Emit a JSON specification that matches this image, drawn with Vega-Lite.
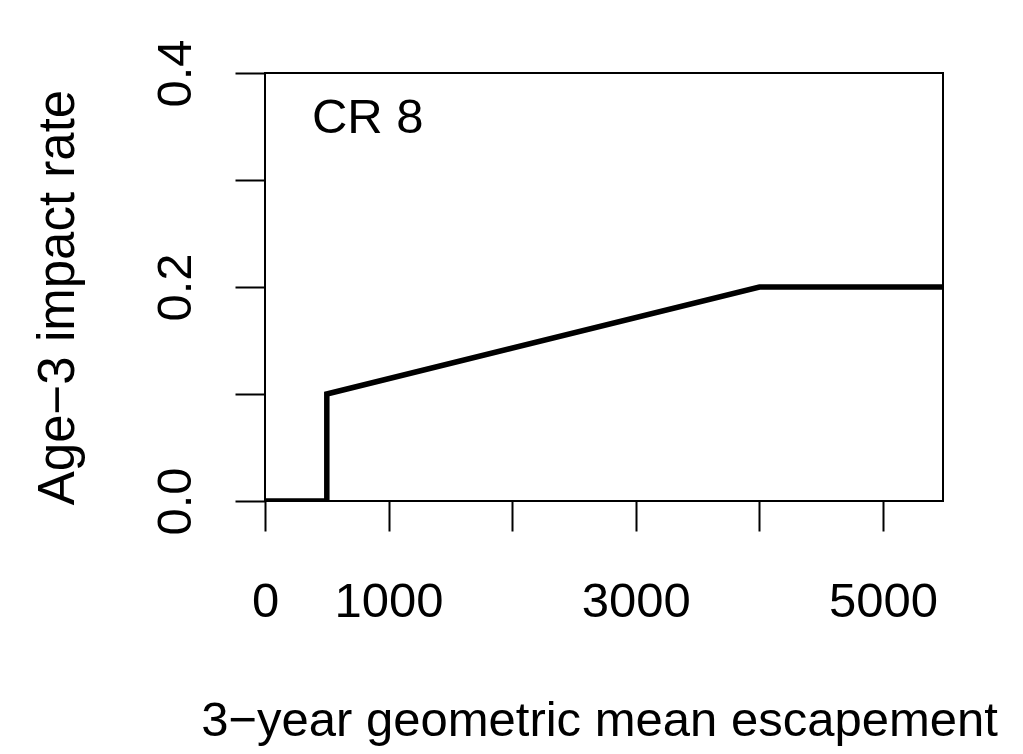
{
  "$schema": "https://vega.github.io/schema/vega-lite/v6.json",
  "width": 678,
  "height": 428,
  "autosize": "none",
  "padding": {"left": 265, "top": 73, "right": 80, "bottom": 253},
  "background": "white",
  "config": {
    "font": "Liberation Sans",
    "view": {"stroke": "black", "strokeWidth": 2},
    "axis": {
      "domain": false,
      "grid": false,
      "ticks": true,
      "tickColor": "black",
      "tickWidth": 2,
      "tickSize": 30,
      "labelFont": "Liberation Sans",
      "labelFontSize": 49,
      "labelColor": "black",
      "labelFlush": false,
      "labelOverlap": false,
      "titleFont": "Liberation Sans",
      "titleFontSize": 49,
      "titleFontWeight": "normal",
      "titleColor": "black"
    }
  },
  "layer": [
    {
      "data": {
        "values": [
          {"i": 1, "escapement": 0, "rate": 0},
          {"i": 2, "escapement": 500, "rate": 0},
          {"i": 3, "escapement": 500, "rate": 0.1},
          {"i": 4, "escapement": 4000, "rate": 0.2},
          {"i": 5, "escapement": 5485, "rate": 0.2}
        ]
      },
      "mark": {"type": "line", "color": "black", "strokeWidth": 5.5, "clip": true, "strokeJoin": "miter", "strokeCap": "butt"},
      "encoding": {
        "x": {
          "field": "escapement",
          "type": "quantitative",
          "scale": {"domain": [0, 5485], "nice": false, "zero": false},
          "axis": {
            "title": "3\u2212year geometric mean escapement",
            "titleX": 334,
            "values": [0, 1000, 2000, 3000, 4000, 5000],
            "labelExpr": "datum.value == 2000 || datum.value == 4000 ? '' : format(datum.value, 'd')",
            "labelPadding": 46,
            "titlePadding": 70
          }
        },
        "y": {
          "field": "rate",
          "type": "quantitative",
          "scale": {"domain": [0, 0.4], "nice": false, "zero": false},
          "axis": {
            "title": "Age\u22123 impact rate",
            "titleFontSize": 51,
            "titleY": 224,
            "values": [0, 0.1, 0.2, 0.3, 0.4],
            "labelExpr": "round(datum.value * 10) % 2 == 1 ? '' : format(datum.value, '.1f')",
            "labelAngle": -90,
            "labelAlign": "center",
            "labelBaseline": "alphabetic",
            "labelPadding": 45,
            "titlePadding": 67
          }
        },
        "order": {"field": "i", "type": "quantitative"}
      }
    },
    {
      "data": {"values": [{"x": 380, "y": 0.358, "label": "CR 8"}]},
      "mark": {"type": "text", "align": "left", "baseline": "middle", "fontSize": 49, "font": "Liberation Sans", "color": "black"},
      "encoding": {
        "x": {"field": "x", "type": "quantitative"},
        "y": {"field": "y", "type": "quantitative"},
        "text": {"field": "label"}
      }
    }
  ]
}
